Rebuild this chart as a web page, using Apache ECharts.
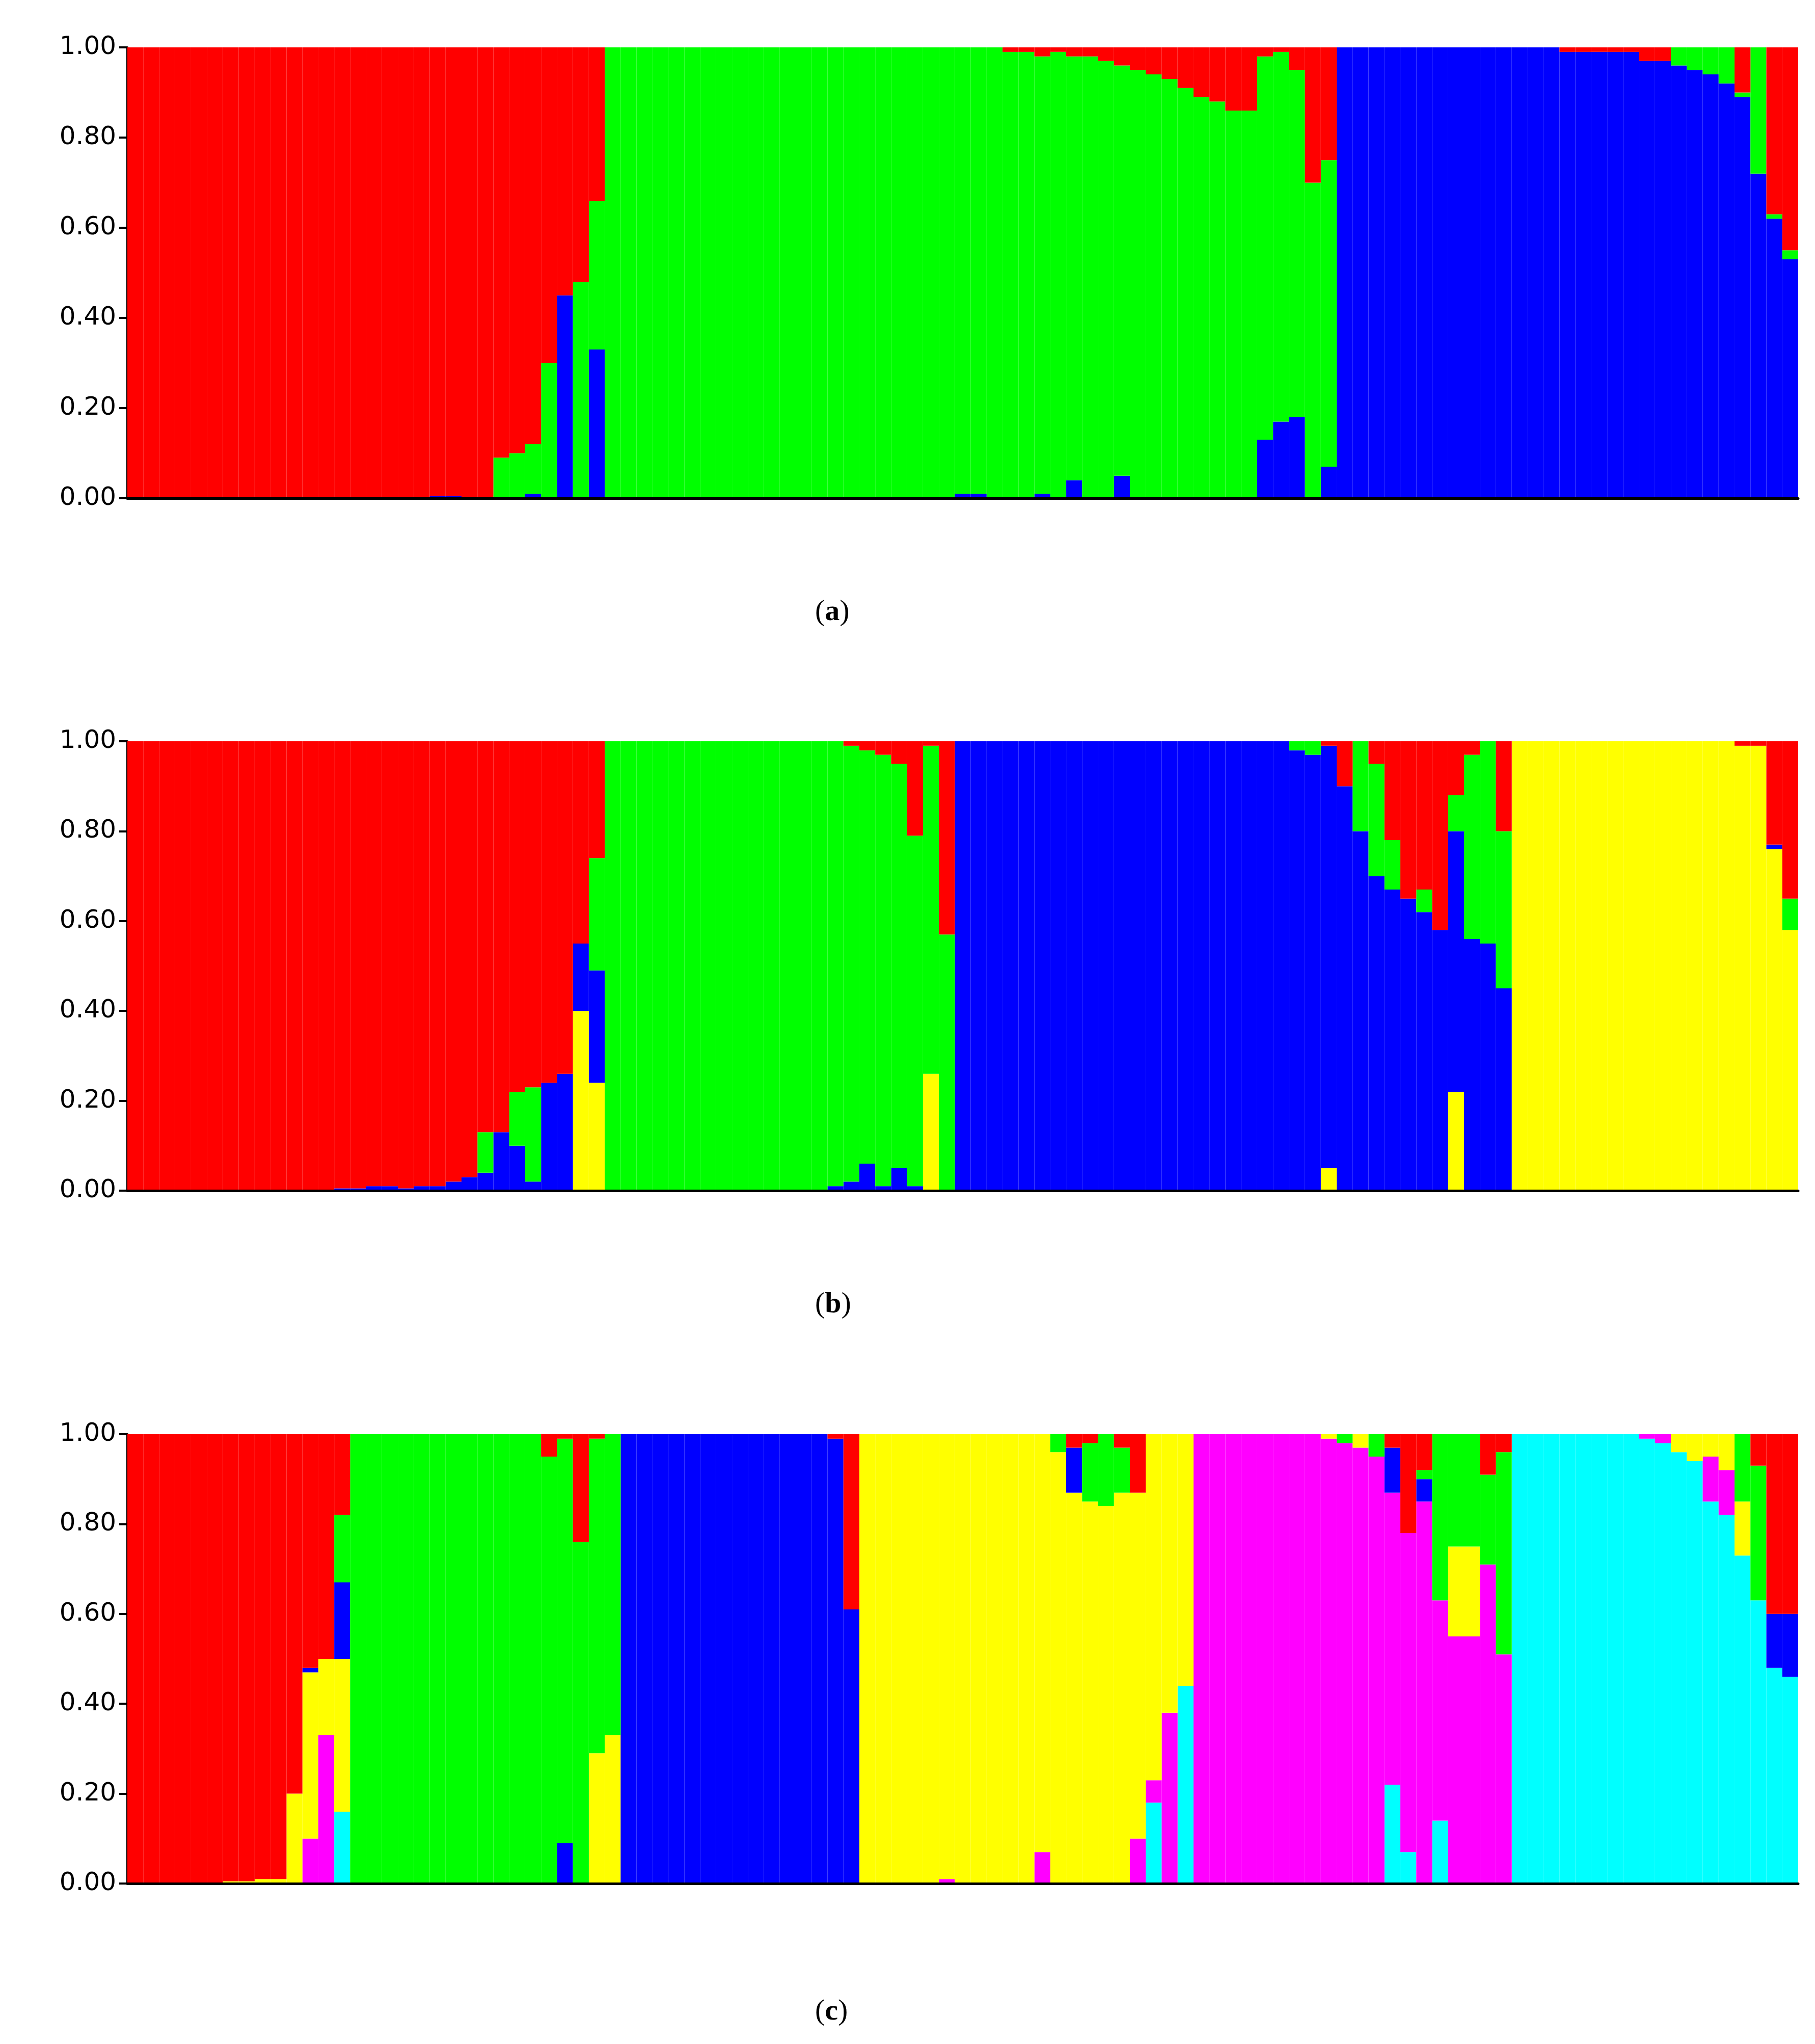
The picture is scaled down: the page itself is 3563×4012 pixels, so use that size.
<!DOCTYPE html>
<html><head><meta charset="utf-8">
<script src="https://cdn.jsdelivr.net/npm/echarts@6/dist/echarts.min.js"></script>
<style>html,body{margin:0;padding:0;background:#fff}#c{width:3563px;height:4012px}</style>
</head><body><div id="c"></div>
<script>
const N = 105;
const individuals = Array.from({length: N}, (_, i) => String(i + 1));
const yTicks = [0, 0.2, 0.4, 0.6, 0.8, 1.0];
const captions = ['a', 'b', 'c'];
const colors = {red:'#ff0000', green:'#00ff00', blue:'#0000ff', yellow:'#ffff00', magenta:'#ff00ff', cyan:'#00ffff'};

// Panel (a), K=3 : dominant cluster ranges [start,end,cluster]
const aDominant = [[0,29,'red'],[30,75,'green'],[76,104,'blue']];
const aRed = [[55,.01],[56,.01],[57,.02],[58,.01],[59,.02],[60,.02],[61,.03],[62,.04],[63,.05],[64,.06],[65,.07],[66,.09],[67,.11],[68,.12],[69,.14],[70,.14],[71,.02],[72,.01],[73,.05],[74,.30],[75,.25],
  [90,.01],[91,.01],[92,.01],[93,.01],[94,.01],[95,.03],[96,.03],[101,.10],[103,.37],[104,.45]];
const aGreen = [[23,.09],[24,.10],[25,.11],[26,.30],[28,.48],[29,.33],[97,.04],[98,.05],[99,.06],[100,.08],[101,.01],[102,.28],[103,.01],[104,.02]];
const aBlue = [[19,.005],[20,.005],[25,.01],[27,.45],[29,.33],[52,.01],[53,.01],[57,.01],[59,.04],[62,.05],[71,.13],[72,.17],[73,.18],[75,.07]];

// Panel (b), K=4
const bDominant = [[0,29,'red'],[30,51,'green'],[52,86,'blue'],[87,104,'yellow']];
const bRed = [[45,.01],[46,.02],[47,.03],[48,.05],[49,.21],[50,.01],[51,.43],[75,.01],[76,.10],[78,.05],[79,.22],[80,.35],[81,.33],[82,.42],[83,.12],[84,.03],[86,.20],[101,.01],[102,.01],[103,.23],[104,.35]];
const bGreen = [[22,.09],[24,.12],[25,.21],[29,.25],[73,.02],[74,.03],[77,.20],[78,.25],[79,.11],[81,.05],[83,.08],[84,.41],[85,.45],[86,.35],[104,.07]];
const bBlue = [[13,.005],[14,.005],[15,.01],[16,.01],[17,.005],[18,.01],[19,.01],[20,.02],[21,.03],[22,.04],[23,.13],[24,.10],[25,.02],[26,.24],[27,.26],[28,.15],[29,.25],[44,.01],[45,.02],[46,.06],[47,.01],[48,.05],[49,.01],[103,.01]];
const bYellow = [[28,.40],[29,.24],[50,.26],[75,.05],[83,.22]];

// Panel (c), K=6
const cDominant = [[0,13,'red'],[14,30,'green'],[31,45,'blue'],[46,66,'yellow'],[67,86,'magenta'],[87,104,'cyan']];
const cRed = [[26,.05],[27,.01],[28,.24],[29,.01],[44,.01],[45,.39],[59,.03],[60,.02],[62,.03],[63,.13],[79,.03],[80,.22],[81,.08],[85,.09],[86,.04],[102,.07],[103,.40],[104,.40]];
const cGreen = [[13,.15],[58,.04],[60,.13],[61,.16],[62,.10],[76,.02],[78,.05],[81,.02],[82,.37],[83,.25],[84,.25],[85,.20],[86,.45],[101,.15],[102,.30]];
const cBlue = [[11,.01],[13,.17],[27,.09],[59,.10],[79,.10],[81,.05],[103,.12],[104,.14]];
const cYellow = [[6,.005],[7,.005],[8,.01],[9,.01],[10,.20],[11,.37],[12,.17],[13,.34],[29,.29],[30,.33],[75,.01],[77,.03],[83,.20],[84,.20],[97,.04],[98,.06],[99,.05],[100,.08],[101,.12]];
const cMagenta = [[11,.10],[12,.33],[51,.01],[57,.07],[63,.10],[64,.05],[65,.38],[95,.01],[96,.02],[99,.10],[100,.10]];
const cCyan = [[13,.16],[64,.18],[66,.44],[79,.22],[80,.07],[82,.14]];

function panel(dom, minors, order) {
  const out = {};
  order.forEach(k => { out[k] = new Array(N).fill(0); });
  Object.keys(minors).forEach(k => minors[k].forEach(([i, v]) => { out[k][i] = v; }));
  dom.forEach(([s, e, k]) => {
    for (let i = s; i <= e; i++) {
      let sum = 0; order.forEach(o => { if (o !== k) sum += out[o][i]; });
      out[k][i] = Math.max(0, 1 - sum);
    }
  });
  return out;
}
const panels = [
  {data: panel(aDominant, {red:aRed, green:aGreen, blue:aBlue}, ['blue','green','red']), order:['blue','green','red'], top:93, bottom:978, cap:1213},
  {data: panel(bDominant, {red:bRed, green:bGreen, blue:bBlue, yellow:bYellow}, ['yellow','blue','green','red']), order:['yellow','blue','green','red'], top:1455, bottom:2337, cap:2572},
  {data: panel(cDominant, {red:cRed, green:cGreen, blue:cBlue, yellow:cYellow, magenta:cMagenta, cyan:cCyan}, ['cyan','magenta','yellow','blue','green','red']), order:['cyan','magenta','yellow','blue','green','red'], top:2815, bottom:3697, cap:3960}
];

const grid = [], xAxis = [], yAxis = [], series = [], graphic = [];
panels.forEach((p, gi) => {
  grid.push({left:250, right:33, top:p.top, height:p.bottom - p.top});
  xAxis.push({type:'category', gridIndex:gi, data:individuals, axisTick:{show:false}, axisLabel:{show:false},
    axisLine:{show:true, lineStyle:{color:'#000', width:5}}, z:10});
  yAxis.push({type:'value', gridIndex:gi, min:0, max:1, interval:0.2, splitLine:{show:false},
    axisLine:{show:true, lineStyle:{color:'#000', width:4}},
    axisTick:{show:true, length:16, lineStyle:{color:'#000', width:4}},
    axisLabel:{formatter:v => v.toFixed(2), fontSize:50, color:'#000', fontFamily:'DejaVu Sans', margin:22}});
  p.order.forEach(k => series.push({type:'bar', name:k+gi, stack:'s'+gi, xAxisIndex:gi, yAxisIndex:gi,
    data:p.data[k], itemStyle:{color:colors[k]}, barCategoryGap:'0%', barGap:'0%', animation:false, silent:true}));
  graphic.push({type:'text', left:1600, top:p.cap - 40, style:{
    text:'({b|' + captions[gi] + '})', font:'58px "Liberation Serif"', fill:'#000',
    rich:{b:{fontWeight:'bold', fontSize:58, fontFamily:'Liberation Serif'}}}});
});
const chart = echarts.init(document.getElementById('c'), null, {renderer:'canvas'});
chart.setOption({animation:false, backgroundColor:'#fff', grid, xAxis, yAxis, series, graphic});
</script></body></html>
